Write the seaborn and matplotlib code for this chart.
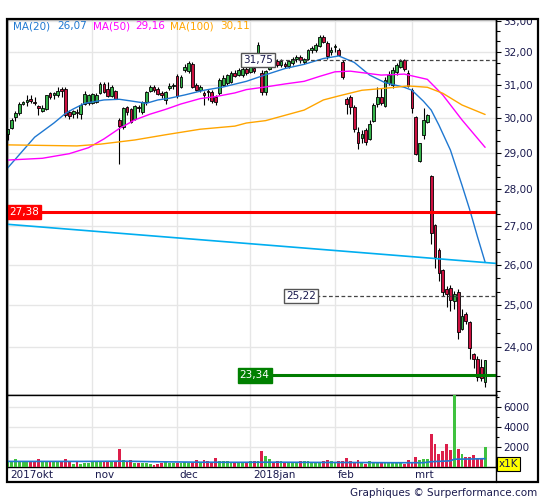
import numpy as np
import matplotlib
matplotlib.use("Agg")
import matplotlib.pyplot as plt
import matplotlib.ticker as ticker
import matplotlib.transforms as mtransforms
from matplotlib.patches import Rectangle
from matplotlib.lines import Line2D
import seaborn as sns

# daily candles, Oct 2 2017 .. Mar 28 2018 (trading days)
open_ = [29.55, 29.72, 30.05, 30.14, 30.42, 30.47, 30.57, 30.48, 30.36, 30.21,
         30.26, 30.74, 30.68, 30.70, 30.86, 30.86, 30.19, 30.12, 30.19, 30.12,
         30.43, 30.45, 30.45, 30.48, 30.76, 31.02, 30.88, 30.66, 30.80, 29.95,
         29.74, 30.34, 30.27, 29.97, 30.34, 30.19, 30.47, 30.80, 30.92, 30.86,
         30.74, 30.54, 30.89, 30.95, 31.25, 30.93, 31.44, 31.40, 31.64, 30.98,
         30.85, 30.74, 30.80, 30.78, 30.64, 30.74, 30.99, 31.04, 31.09, 31.34,
         31.29, 31.29, 31.49, 31.39, 31.50, 31.95, 31.35, 30.78, 31.49, 31.72,
         31.72, 31.60, 31.64, 31.58, 31.66, 31.80, 31.84, 31.70, 31.80, 32.05,
         32.05, 32.19, 32.48, 32.27, 32.00, 32.15, 32.06, 31.70, 30.56, 30.64,
         30.33, 29.60, 29.42, 29.66, 29.41, 29.93, 30.42, 30.62, 30.37, 31.04,
         30.99, 31.38, 31.54, 31.75, 31.34, 30.83, 30.03, 28.78, 29.52, 29.90,
         28.35, 27.03, 26.38, 25.87, 25.39, 25.43, 25.11, 25.32, 24.42, 24.78,
         24.60, 23.83, 23.73, 23.54, 23.20]
high = [29.70, 30.00, 30.22, 30.47, 30.52, 30.69, 30.70, 30.62, 30.39, 30.39,
        30.70, 30.77, 30.78, 30.92, 30.92, 30.92, 30.25, 30.25, 30.28, 30.45,
        30.80, 30.72, 30.75, 30.74, 31.08, 31.08, 31.08, 30.98, 30.85, 30.00,
        30.33, 30.37, 30.30, 30.38, 30.40, 30.52, 30.80, 31.00, 31.00, 30.92,
        30.80, 30.80, 31.04, 31.06, 31.32, 31.30, 31.64, 31.72, 31.70, 31.05,
        31.00, 30.80, 30.88, 30.85, 30.70, 31.20, 31.30, 31.32, 31.40, 31.45,
        31.50, 31.55, 31.55, 31.60, 31.58, 32.33, 31.45, 31.44, 31.78, 31.80,
        31.78, 31.78, 31.70, 31.75, 31.86, 31.92, 31.90, 31.82, 32.10, 32.20,
        32.30, 32.54, 32.55, 32.35, 32.15, 32.25, 32.12, 31.75, 30.64, 30.69,
        30.40, 29.75, 29.65, 29.72, 29.95, 30.45, 30.93, 30.90, 31.24, 31.42,
        31.54, 31.65, 31.78, 31.80, 31.44, 30.89, 30.08, 29.27, 30.29, 30.12,
        28.38, 27.05, 26.42, 25.89, 25.46, 25.50, 25.35, 25.39, 24.90, 24.82,
        24.62, 23.86, 23.78, 23.73, 23.69]
low = [29.37, 29.68, 29.93, 30.10, 30.38, 30.36, 30.44, 30.40, 30.10, 30.18,
       30.24, 30.56, 30.56, 30.62, 30.64, 30.05, 29.98, 30.02, 30.00, 29.98,
       30.40, 30.40, 30.42, 30.44, 30.72, 30.74, 30.62, 30.62, 30.56, 28.68,
       29.70, 30.10, 29.86, 29.94, 30.18, 30.12, 30.40, 30.78, 30.78, 30.68,
       30.60, 30.42, 30.83, 30.88, 30.60, 30.90, 31.38, 31.36, 30.90, 30.80,
       30.78, 30.39, 30.55, 30.45, 30.40, 30.70, 30.95, 31.00, 31.05, 31.22,
       31.25, 31.22, 31.30, 31.35, 31.35, 31.90, 30.70, 30.70, 31.45, 31.60,
       31.55, 31.55, 31.50, 31.52, 31.60, 31.70, 31.66, 31.62, 31.75, 31.98,
       32.00, 32.15, 32.30, 31.80, 31.92, 32.00, 31.88, 31.16, 30.11, 30.13,
       29.60, 29.10, 29.27, 29.22, 29.37, 29.88, 30.33, 30.38, 30.34, 30.99,
       30.90, 31.30, 31.50, 31.42, 30.93, 30.14, 28.94, 28.75, 29.41, 29.86,
       26.53, 25.91, 25.60, 25.22, 24.96, 24.85, 24.90, 24.18, 24.40, 24.55,
       23.73, 23.50, 23.22, 23.22, 23.08]
close = [29.68, 29.95, 30.16, 30.41, 30.49, 30.54, 30.50, 30.46, 30.29, 30.29,
         30.69, 30.64, 30.74, 30.81, 30.82, 30.10, 30.07, 30.20, 30.14, 30.39,
         30.71, 30.68, 30.72, 30.70, 31.03, 30.78, 30.66, 30.93, 30.58, 29.76,
         30.31, 30.19, 29.90, 30.36, 30.30, 30.49, 30.77, 30.93, 30.83, 30.71,
         30.68, 30.78, 30.96, 30.98, 30.66, 31.24, 31.54, 31.65, 30.93, 30.84,
         30.93, 30.70, 30.78, 30.52, 30.49, 31.14, 31.21, 31.29, 31.34, 31.27,
         31.44, 31.49, 31.34, 31.54, 31.40, 32.22, 30.78, 31.40, 31.75, 31.68,
         31.60, 31.72, 31.56, 31.72, 31.80, 31.85, 31.76, 31.78, 32.06, 32.12,
         32.22, 32.48, 32.33, 31.88, 32.06, 32.19, 31.91, 31.22, 30.42, 30.33,
         29.69, 29.27, 29.55, 29.32, 29.83, 30.39, 30.64, 30.45, 31.14, 31.29,
         31.44, 31.60, 31.73, 31.47, 30.96, 30.31, 28.97, 29.27, 29.95, 30.10,
         26.81, 26.21, 25.80, 25.31, 25.27, 25.13, 25.28, 24.36, 24.73, 24.62,
         23.97, 23.71, 23.31, 23.28, 23.69]
# volume in thousands
volume = [520, 520, 770, 560, 520, 520, 520, 520, 770, 630,
          520, 520, 520, 520, 600, 770, 520, 350, 480, 350,
          420, 420, 520, 520, 520, 520, 520, 520, 520, 1800,
          660, 520, 660, 420, 420, 420, 420, 350, 210, 350,
          420, 590, 420, 420, 420, 420, 480, 420, 420, 660,
          480, 660, 560, 450, 870, 560, 590, 590, 420, 420,
          420, 420, 420, 560, 590, 590, 1600, 1080, 770, 420,
          590, 590, 420, 420, 420, 420, 560, 560, 560, 420,
          420, 420, 560, 660, 610, 550, 610, 650, 900, 610,
          550, 710, 550, 320, 610, 390, 520, 390, 390, 390,
          390, 390, 390, 320, 700, 550, 1000, 700, 800, 800,
          3330, 2260, 1290, 1580, 2260, 1680, 7500, 1780, 1290, 1030,
          1030, 1200, 775, 775, 1970]

# moving averages (day index, value)
ma20_day = [0, 7, 12, 15, 17, 20, 25, 29, 32, 36, 39, 42, 46, 51, 56, 62, 67,
            72, 77, 82, 86, 90, 94, 98, 103, 105, 108, 110, 112, 115, 118, 120, 122, 124]
ma20 = [28.58, 29.45, 29.86, 30.14, 30.27, 30.44, 30.54, 30.56, 30.51, 30.44, 30.54,
        30.59, 30.69, 30.83, 30.93, 31.10, 31.30, 31.49, 31.62, 31.80, 31.88, 31.68,
        31.29, 31.06, 30.92, 30.83, 30.50, 30.24, 29.80, 29.08, 28.10, 27.44, 26.73, 26.07]
ma50_day = [0, 9, 16, 21, 25, 29, 33, 37, 41, 45, 50, 54, 59, 62, 67, 72, 77, 81,
            85, 89, 97, 103, 109, 113, 118, 124]
ma50 = [28.80, 28.85, 28.98, 29.15, 29.40, 29.70, 29.95, 30.12, 30.26, 30.42, 30.58,
        30.64, 30.75, 30.85, 30.93, 31.02, 31.10, 31.25, 31.39, 31.41, 31.29, 31.32,
        31.16, 30.69, 29.95, 29.16]
ma100_day = [0, 18, 24, 33, 41, 50, 59, 62, 67, 77, 82, 86, 92, 98, 104, 109, 113, 118, 124]
ma100 = [29.23, 29.20, 29.25, 29.37, 29.52, 29.68, 29.77, 29.86, 29.93, 30.24, 30.54,
         30.66, 30.83, 30.89, 30.96, 30.92, 30.74, 30.39, 30.11]
vma_day = [0, 20, 30, 40, 50, 60, 70, 80, 90, 100, 108, 110, 113, 115, 116, 120, 124]
vma = [560, 560, 580, 520, 480, 470, 480, 460, 450, 430, 430, 530, 580, 620, 780, 800, 830]

# long trend line (two points on it)
trend_day = [0, 124]
trend_val = [27.05, 26.06]

# horizontal levels
resistance = 27.38
support, support_from = 23.34, 68
dashed_levels = [31.75, 25.22]
dashed_from = [69, 80]

month_day = [0, 22, 44, 63, 85, 105]
month_labels = ["2017okt", "nov", "dec", "2018jan", "feb", "mrt"]

sns.set_style("white")
plt.rcParams['font.family'] = ['DejaVu Sans']

NAVY = '#1a1a4e'
C_UP, C_DN = '#35b34a', '#cc1040'
V_UP, V_DN = '#3fc23f', '#dc1e4a'
BLUE, MAG, ORA = '#1f78d1', '#ff00ff', '#ffa500'
GRID = '#e6e6e6'

W, H = 545, 500
fig = plt.figure(figsize=(W / 100, H / 100), dpi=100)


def fx(px):
    return px / W


def fy(py):
    return 1 - py / H


ax = fig.add_axes([fx(7), fy(395), fx(496) - fx(7), fy(19) - fy(395)])
axv = fig.add_axes([fx(7), fy(467), fx(496) - fx(7), fy(395) - fy(467)])

days = np.arange(len(close))
o, c = np.array(open_), np.array(close)
up = c >= o
xl = (-0.18, 126.83)

# price panel
ax.set_yscale('log')
ax.vlines(days, low, high, color='black', lw=0.8, zorder=3)
lo = np.minimum(o, c)
ax.bar(days, np.maximum(np.abs(c - o), 0.015), bottom=lo, width=0.72,
       color=np.where(up, C_UP, C_DN), edgecolor='black', lw=0.6, zorder=4)

sns.lineplot(x=ma20_day, y=ma20, ax=ax, color=BLUE, lw=1, zorder=5)
sns.lineplot(x=ma50_day, y=ma50, ax=ax, color=MAG, lw=1, zorder=5)
sns.lineplot(x=ma100_day, y=ma100, ax=ax, color=ORA, lw=1, zorder=5)
ax.axline((trend_day[0], trend_val[0]), (trend_day[1], trend_val[1]),
          color='#00aef0', lw=1.2, zorder=5)

ax.axhline(resistance, color='#ff0000', lw=2.2, zorder=6)
ax.hlines(support, support_from, xl[1], color='#007c00', lw=2.2, zorder=6)
for lvl, d0 in zip(dashed_levels, dashed_from):
    ax.hlines(lvl, d0, xl[1], color='#444444', lw=0.9, linestyles=(0, (3, 2)), zorder=6)
    ax.text(d0, lvl, f"{lvl:.2f}".replace('.', ','), ha='right', va='center',
            fontsize=7.5, color=NAVY, zorder=7,
            bbox=dict(boxstyle='square,pad=0.2', fc='white', ec='#555555', lw=1))
ax.text(support_from, support, f"{support:.2f}".replace('.', ','), ha='right', va='center',
        fontsize=7.5, color='white', zorder=7,
        bbox=dict(boxstyle='square,pad=0.2', fc='#008000', ec='#008000', lw=1))
ax.text(0.004, resistance, f"{resistance:.2f}".replace('.', ','),
        transform=mtransforms.blended_transform_factory(ax.transAxes, ax.transData),
        ha='left', va='center', fontsize=7.5, color='white', zorder=7,
        bbox=dict(boxstyle='square,pad=0.2', fc='#ff0000', ec='#ff0000', lw=1))

ax.set_xlim(xl)
ax.set_ylim(22.90, 33.05)
ax.set_xlabel('')
ax.set_ylabel('')
ax.set_xticks(month_day)
ax.tick_params(axis='x', length=0, labelbottom=False)
ax.yaxis.tick_right()
ax.set_yticks(range(24, 34))
ax.yaxis.set_major_formatter(ticker.FuncFormatter(lambda v, p: f"{v:.2f}".replace('.', ',')))
ax.yaxis.set_minor_locator(ticker.FixedLocator([23 + k / 3 for k in range(31)]))
ax.yaxis.set_minor_formatter(ticker.NullFormatter())
ax.tick_params(axis='y', which='major', length=3.8, width=0.8, pad=1.5,
               labelsize=7.5, labelcolor=NAVY, color='black')
ax.tick_params(axis='y', which='minor', length=3.0, width=0.8, color='black')
ax.grid(True, which='major', color=GRID, lw=1, zorder=0)
ax.set_axisbelow(True)
for s in ax.spines.values():
    s.set_color('black')
    s.set_linewidth(1)

# legend text
legend = [("MA(20)", 13, BLUE), (f"{ma20[-1]:.2f}".replace('.', ','), 57, BLUE),
          ("MA(50)", 93, MAG), (f"{ma50[-1]:.2f}".replace('.', ','), 135, MAG),
          ("MA(100)", 170, ORA), (f"{ma100[-1]:.2f}".replace('.', ','), 220, ORA)]
for txt, px, col in legend:
    fig.text(fx(px), fy(26.5), txt, color=col, fontsize=7.5, va='center', ha='left')

# volume panel
axv.bar(days, volume, width=0.75, color=np.where(up, V_UP, V_DN), lw=0, zorder=3)
sns.lineplot(x=vma_day, y=vma, ax=axv, color=BLUE, lw=1.2, zorder=4)
axv.set_xlim(xl)
axv.set_ylim(0, 7200)
axv.set_xlabel('')
axv.set_ylabel('')
axv.yaxis.tick_right()
axv.set_yticks([2000, 4000, 6000])
axv.yaxis.set_minor_locator(ticker.MultipleLocator(1000))
axv.tick_params(axis='y', which='major', length=3.8, width=0.8, pad=1.5,
                labelsize=7.5, labelcolor=NAVY, color='black')
axv.tick_params(axis='y', which='minor', length=2.5, width=0.8, color='black')
axv.set_xticks(month_day, labels=month_labels)
axv.tick_params(axis='x', length=0, pad=2.5, labelsize=7.5, labelcolor=NAVY)
shift = mtransforms.ScaledTranslation(2 / 72, 0, fig.dpi_scale_trans)
for lab in axv.get_xticklabels():
    lab.set_ha('left')
    lab.set_transform(lab.get_transform() + shift)
axv.grid(True, which='major', color=GRID, lw=1, zorder=0)
axv.set_axisbelow(True)
for s in axv.spines.values():
    s.set_color('black')
    s.set_linewidth(1)

fig.text(fx(499), fy(464), "x1K", fontsize=7.5, color=NAVY, va='center', ha='left',
         bbox=dict(boxstyle='square,pad=0.15', fc='#ffff00', ec='black', lw=0.8))
fig.text(fx(537), fy(493), "Graphiques © Surperformance.com", fontsize=7.5,
         color=NAVY, ha='right', va='center')

# outer frame, clip the top label
fig.add_artist(Rectangle((fx(497), fy(18.5)), fx(545) - fx(497), fy(0) - fy(18.5),
                         transform=fig.transFigure, fc='white', ec='none', zorder=10))
fig.add_artist(Rectangle((fx(6.5), fy(482)), fx(538) - fx(6.5), fy(19) - fy(482),
                         transform=fig.transFigure, fill=False, ec='black', lw=1.6, zorder=11))
fig.add_artist(Line2D([fx(496), fx(496)], [fy(482), fy(19)], transform=fig.transFigure,
                      color='black', lw=1, zorder=11))

fig.savefig("out.png", dpi=100)
